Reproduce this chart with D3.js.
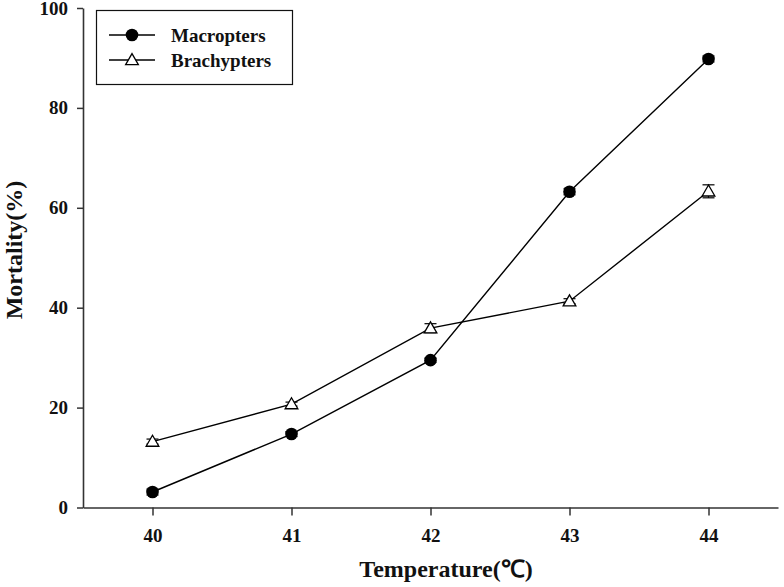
<!DOCTYPE html>
<html>
<head>
<meta charset="utf-8">
<script src="https://cdn.jsdelivr.net/npm/d3@7"></script>
<style>
  body { margin: 0; background: #fff; }
  svg { display: block; }
  text { font-family: "Liberation Serif", "Times New Roman", serif; font-weight: bold; fill: #111; }
</style>
</head>
<body>
<svg width="784" height="587"></svg>
<script>
// data
const temps = [40, 41, 42, 43, 44];
const macropters = [3.1, 14.7, 29.5, 63.2, 89.8];
const macroErr = [0.6, 0.5, 0.4, 0.6, 0.6];
const brachypters = [13.2, 20.7, 35.9, 41.3, 63.3];
const brachyErr = [0.5, 0.4, 0.9, 0.5, 1.3];
const yTicks = [0, 20, 40, 60, 80, 100];

const svg = d3.select("svg");

const x = d3.scaleLinear().domain([39.5, 44.5]).range([83, 778]);
const y = d3.scaleLinear().domain([0, 100]).range([507.5, 8]);

// axes
const xAxis = svg.append("g")
    .attr("transform", `translate(0,${y(0)})`)
    .call(d3.axisBottom(x).tickValues(temps).tickFormat(d3.format("d")).tickSize(8).tickPadding(13).tickSizeOuter(0));
const yAxis = svg.append("g")
    .attr("transform", `translate(${x(39.5)},0)`)
    .call(d3.axisLeft(y).tickValues(yTicks).tickSize(6).tickPadding(9).tickSizeOuter(0));

[xAxis, yAxis].forEach(g => {
  g.select(".domain").attr("stroke", "#333").attr("stroke-width", 1.6);
  g.selectAll(".tick line").attr("stroke", "#333").attr("stroke-width", 1.5);
  g.selectAll(".tick text").attr("font-size", 19).attr("font-family", null).attr("fill", "#111");
});

// axis titles
svg.append("text")
    .attr("x", 446).attr("y", 577)
    .attr("text-anchor", "middle")
    .attr("font-size", 24)
    .text("Temperature(℃)");
svg.append("text")
    .attr("transform", "translate(22,250) rotate(-90)")
    .attr("text-anchor", "middle")
    .attr("font-size", 24)
    .text("Mortality(%)");

const line = d3.line()
    .x((d, i) => x(temps[i]))
    .y(d => y(d));

function errorBars(vals, errs) {
  const g = svg.append("g").attr("stroke", "#000").attr("stroke-width", 1.2);
  vals.forEach((v, i) => {
    const cx = x(temps[i]);
    g.append("line").attr("x1", cx).attr("x2", cx).attr("y1", y(v - errs[i])).attr("y2", y(v + errs[i]));
    [v - errs[i], v + errs[i]].forEach(e => {
      g.append("line").attr("x1", cx - 6).attr("x2", cx + 6).attr("y1", y(e)).attr("y2", y(e));
    });
  });
}

// lines
svg.append("path").datum(macropters)
    .attr("d", line).attr("fill", "none").attr("stroke", "#000").attr("stroke-width", 1.4);
svg.append("path").datum(brachypters)
    .attr("d", line).attr("fill", "none").attr("stroke", "#000").attr("stroke-width", 1.4);

errorBars(macropters, macroErr);
errorBars(brachypters, brachyErr);

const tri = d3.symbol().type(d3.symbolTriangle).size(70);

svg.append("g").selectAll("circle")
  .data(macropters).join("circle")
    .attr("cx", (d, i) => x(temps[i]))
    .attr("cy", d => y(d))
    .attr("r", 6.3)
    .attr("fill", "#000");

svg.append("g").selectAll("path")
  .data(brachypters).join("path")
    .attr("d", tri)
    .attr("transform", (d, i) => `translate(${x(temps[i])},${y(d) + 1})`)
    .attr("fill", "#fff")
    .attr("stroke", "#000")
    .attr("stroke-width", 1.3);

// legend
const legend = svg.append("g");
legend.append("rect")
    .attr("x", 96.5).attr("y", 10.5).attr("width", 196).attr("height", 74)
    .attr("fill", "#fff").attr("stroke", "#111").attr("stroke-width", 1.2);
const items = [
  {label: "Macropters", type: "circle"},
  {label: "Brachypters", type: "triangle"}
];
items.forEach((it, i) => {
  const ly = 35 + i * 25;
  legend.append("line").attr("x1", 109).attr("x2", 155).attr("y1", ly).attr("y2", ly)
      .attr("stroke", "#000").attr("stroke-width", 1.4);
  if (it.type === "circle") {
    legend.append("circle").attr("cx", 132).attr("cy", ly).attr("r", 6.3).attr("fill", "#000");
  } else {
    legend.append("path").attr("d", tri).attr("transform", `translate(132,${ly + 1})`)
        .attr("fill", "#fff").attr("stroke", "#000").attr("stroke-width", 1.3);
  }
  legend.append("text").attr("x", 171).attr("y", ly + 6.5).attr("font-size", 19).text(it.label);
});
</script>
</body>
</html>
